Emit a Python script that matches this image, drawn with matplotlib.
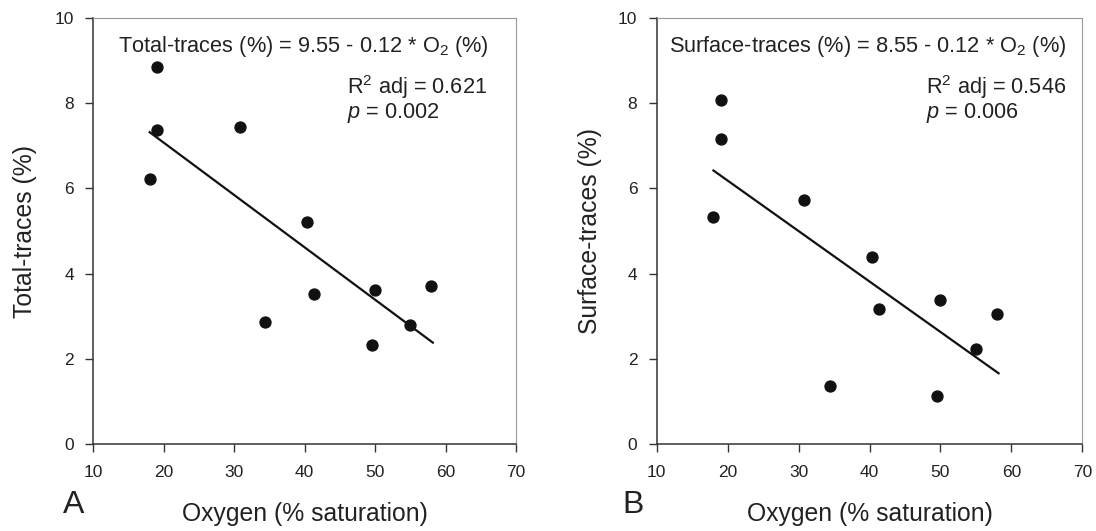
import matplotlib
matplotlib.use('Agg')
import matplotlib.pyplot as plt
import numpy as np

plt.rcParams['font.family'] = ['Liberation Sans', 'DejaVu Sans']
plt.rcParams['mathtext.fontset'] = 'custom'
plt.rcParams['mathtext.rm'] = 'Liberation Sans'
plt.rcParams['mathtext.it'] = 'Liberation Sans:italic'

# oxygen (% saturation) at each site
oxygen = [18.0, 19.0, 19.0, 30.8, 34.4, 40.3, 41.4, 49.5, 50.0, 55.0, 58.0]
total_traces = [6.21, 8.84, 7.36, 7.43, 2.87, 5.22, 3.53, 2.32, 3.62, 2.79, 3.71]
surface_traces = [5.33, 8.07, 7.15, 5.73, 1.36, 4.38, 3.17, 1.13, 3.38, 2.24, 3.05]

# regression lines, end points
fit_x = [18.0, 58.2]
fit_total = [7.32, 2.38]
fit_surface = [6.42, 1.66]

xticks = [10, 20, 30, 40, 50, 60, 70]
yticks = [0, 2, 4, 6, 8, 10]

panels = [
    dict(pos=[0.0851, 0.1638, 0.3857, 0.8023], y=total_traces, fit=fit_total,
         ylabel='Total-traces (%)', letter='A',
         eq='Total-traces (%) = 9.55 - 0.12 * O$_2$ (%)', eqx=0.059,
         stats='R$^2$ adj = 0.621\n$p$ = 0.002', statx=0.60,
         ylabx=0.0224, letx=0.067),
    dict(pos=[0.5992, 0.1638, 0.3883, 0.8023], y=surface_traces, fit=fit_surface,
         ylabel='Surface-traces (%)', letter='B',
         eq='Surface-traces (%) = 8.55 - 0.12 * O$_2$ (%)', eqx=0.03,
         stats='R$^2$ adj = 0.546\n$p$ = 0.006', statx=0.633,
         ylabx=0.538, letx=0.578),
]

fig = plt.figure(figsize=(10.96, 5.31), dpi=100)

for pn in panels:
    ax = fig.add_axes(pn['pos'])
    ax.scatter(oxygen, pn['y'], s=62, color='#111111', zorder=3)
    ax.plot(fit_x, pn['fit'], color='#111111', linewidth=1.6)

    ax.set_xlim(10, 70)
    ax.set_ylim(0, 10)
    ax.set_xticks(xticks)
    ax.set_yticks(yticks)
    ax.tick_params(direction='out', length=6, width=1, labelsize=12.5, color='#333333', labelcolor='#222222')
    ax.tick_params(axis='x', pad=9)
    ax.tick_params(axis='y', pad=8)

    for side in ['top', 'right']:
        ax.spines[side].set_color('#999999')
        ax.spines[side].set_linewidth(0.8)
    for side in ['left', 'bottom']:
        ax.spines[side].set_color('#333333')
        ax.spines[side].set_linewidth(1.1)

    ax.text(pn['eqx'], 0.933, pn['eq'], transform=ax.transAxes, fontsize=15.7, va='center', color='#222222')
    ax.text(pn['statx'], 0.81, pn['stats'], transform=ax.transAxes, fontsize=15.7, va='center',
            linespacing=1.0, color='#222222')

    cx = pn['pos'][0] + pn['pos'][2] / 2
    fig.text(cx, 0.032, 'Oxygen (% saturation)', fontsize=17.8, ha='center', va='center', color='#222222')
    fig.text(pn['ylabx'], pn['pos'][1] + pn['pos'][3] / 2, pn['ylabel'], fontsize=17.8,
             rotation=90, ha='center', va='center', color='#222222')
    fig.text(pn['letx'], 0.049, pn['letter'], fontsize=23, ha='center', va='center', color='#222222')

fig.savefig('out.png', dpi=100)
